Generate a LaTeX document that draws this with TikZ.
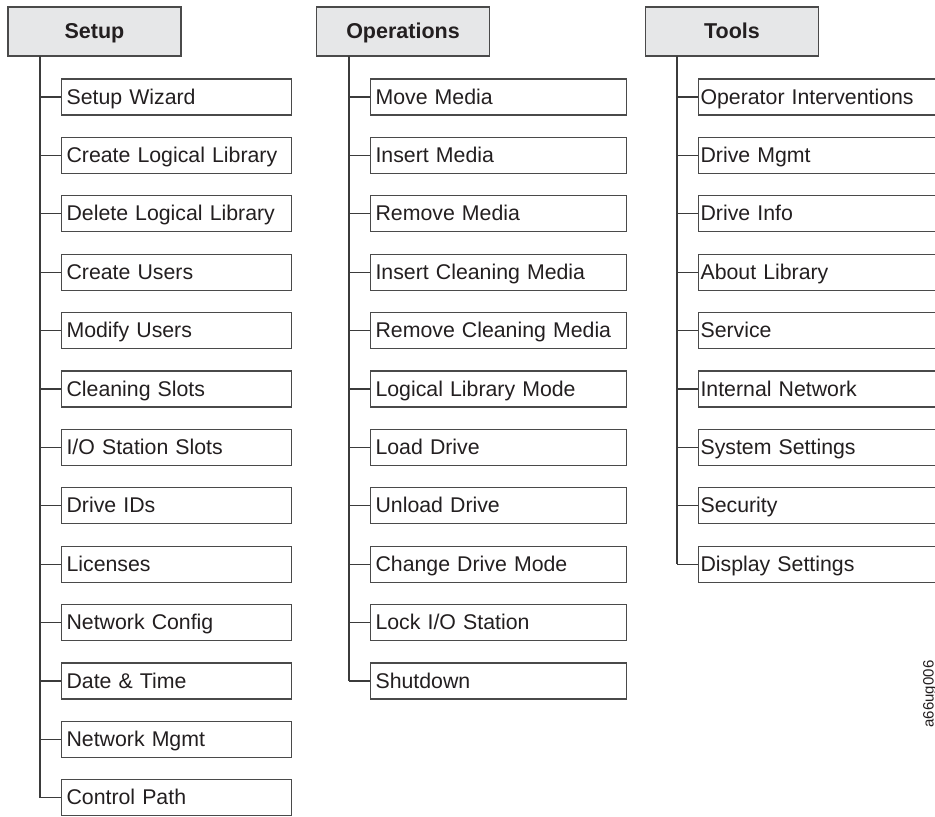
\documentclass[tikz,border=0pt]{standalone}
\usepackage{fontspec}
\setmainfont{Liberation Sans}
\definecolor{txt}{HTML}{231F20}
\definecolor{bord}{HTML}{4A4A4A}
\definecolor{hfill}{HTML}{E6E7E8}
\begin{document}
\begin{tikzpicture}[x=1pt,y=-1pt,
  hdr/.style={draw=bord, line width=1.1pt, fill=hfill, minimum width=173pt, minimum height=49pt,
    inner sep=0pt, text height=14pt, text depth=1pt, text=txt, font=\fontsize{21.5}{24}\bfseries\selectfont},
  item/.style={draw=bord, line width=1.1pt, anchor=west, minimum height=36pt, inner xsep=5pt, inner ysep=10pt,
    text height=15pt, text depth=1pt, text=txt, align=left, font=\fontsize{21.3}{24}\selectfont},
  conn/.style={draw=bord!80!black, line width=1.1pt}]
\useasboundingbox (0,0) rectangle (935,817);
\clip (0,0) rectangle (935,817);
\fill[white] (0,0) rectangle (935,817);

\node[hdr] (setup) at (94.5,31.5) {Setup};
\node[hdr] (ops) at (403,31.5) {Operations};
\node[hdr] (tools) at (732,31.5) {Tools};

% Setup column
\foreach \t [count=\i] in {Setup Wizard, Create Logical Library, Delete Logical Library, Create Users,
  Modify Users, Cleaning Slots, I/O Station Slots, Drive IDs, Licenses, Network Config,
  Date \& Time, Network Mgmt, Control Path}{
  \node[item, text width=220pt] (s\i) at (61,{97+58.4*(\i-1)}) {\t};
  \coordinate (sj\i) at (40,{97+58.4*(\i-1)});
  \draw[conn] (s\i.west) -- (sj\i);
}
\coordinate (st) at (40,56);
\draw[conn] (st) -- (sj13);

% Operations column
\foreach \t [count=\i] in {Move Media, Insert Media, Remove Media, Insert Cleaning Media,
  Remove Cleaning Media, Logical Library Mode, Load Drive, Unload Drive, Change Drive Mode,
  Lock I/O Station, Shutdown}{
  \node[item, text width=246pt] (o\i) at (370,{97+58.4*(\i-1)}) {\t};
  \coordinate (oj\i) at (349,{97+58.4*(\i-1)});
  \draw[conn] (o\i.west) -- (oj\i);
}
\coordinate (ot) at (349,56);
\draw[conn] (ot) -- (oj11);

% Tools column
\foreach \t [count=\i] in {Operator Interventions, Drive Mgmt, Drive Info, About Library, Service,
  Internal Network, System Settings, Security, Display Settings}{
  \node[item, text width=256pt, inner xsep=2pt] (t\i) at (698,{97+58.4*(\i-1)}) {\t};
  \coordinate (tj\i) at (677,{97+58.4*(\i-1)});
  \draw[conn] (t\i.west) -- (tj\i);
}
\coordinate (tt) at (677,56);
\draw[conn] (tt) -- (tj9);

\node[rotate=90, text=txt, inner sep=0pt, font=\fontsize{15}{15}\selectfont] (fig) at (930,694) {a66ug006};
\end{tikzpicture}
\end{document}
